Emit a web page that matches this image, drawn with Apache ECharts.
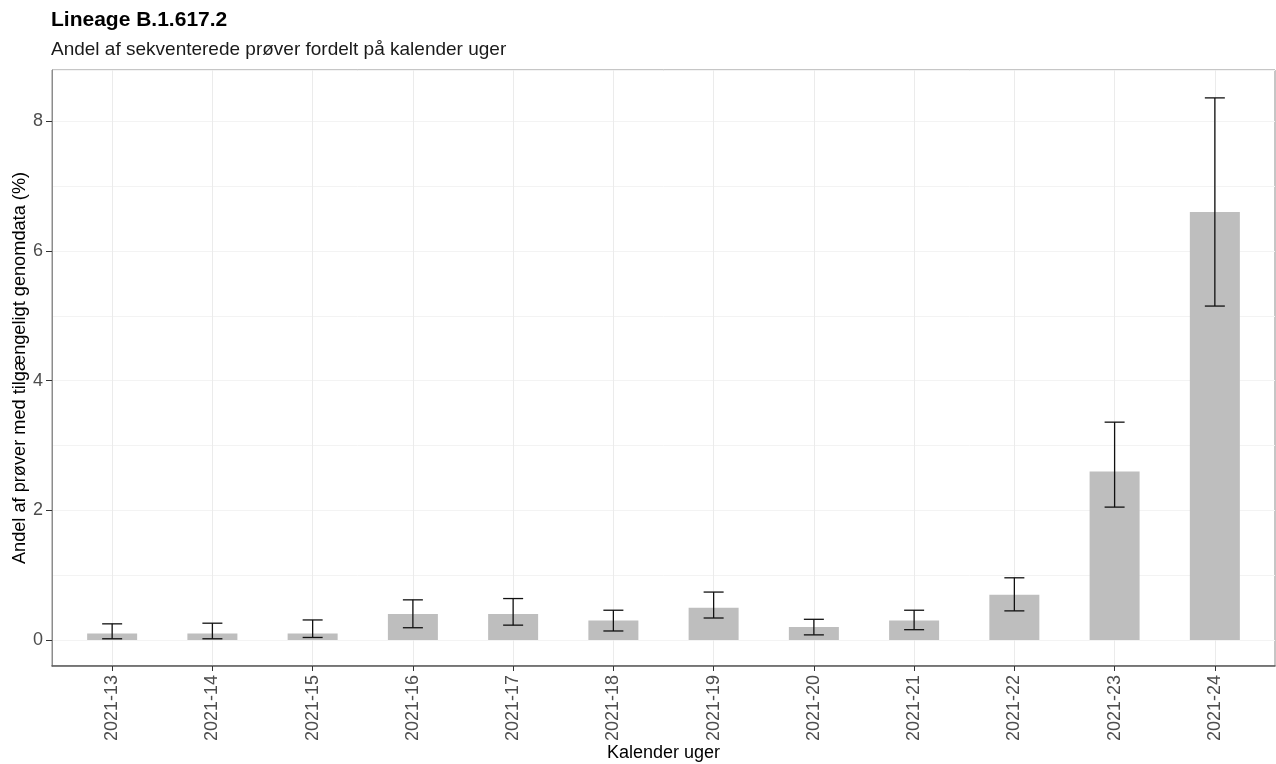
<!DOCTYPE html>
<html><head><meta charset="utf-8">
<script src="https://cdn.jsdelivr.net/npm/echarts@6/dist/echarts.min.js"></script>
<style>html,body{margin:0;padding:0;background:#fff}#c{width:1276px;height:764px}</style>
</head><body><div id="c"></div>
<script>
const weeks = ['2021-13','2021-14','2021-15','2021-16','2021-17','2021-18','2021-19','2021-20','2021-21','2021-22','2021-23','2021-24'];
const share = [0.1,0.1,0.1,0.4,0.4,0.3,0.5,0.2,0.3,0.7,2.6,6.6];
const lower = [0.02,0.02,0.04,0.19,0.23,0.14,0.34,0.08,0.16,0.45,2.05,5.15];
const upper = [0.25,0.26,0.31,0.62,0.64,0.46,0.74,0.32,0.46,0.96,3.36,8.36];
const yTicks = [0,2,4,6,8];

const pos = weeks.map((w,i)=>i+1);
const FONT = 'Liberation Sans, Arial, sans-serif';
const chart = echarts.init(document.getElementById('c'));
chart.setOption({
  animation:false,
  textStyle:{fontFamily:FONT},
  title:{
    text:'Lineage B.1.617.2',
    subtext:'Andel af sekventerede prøver fordelt på kalender uger',
    left:46, top:5, itemGap:9,
    textStyle:{fontFamily:FONT,fontSize:21,fontWeight:'bold',color:'#000'},
    subtextStyle:{fontFamily:FONT,fontSize:19,color:'#1a1a1a'}
  },
  grid:{left:52,top:70,width:1223,height:596,show:true,borderColor:'#8c8c8c',borderWidth:1,
        backgroundColor:'transparent',outerBoundsMode:'none',containLabel:false},
  xAxis:{
    type:'value',min:0.4,max:12.6,minInterval:1,maxInterval:1,splitNumber:12,
    axisLine:{show:true,onZero:false,lineStyle:{color:'#5a5a5a',width:1.5}},
    axisTick:{show:true,length:5,customValues:pos,lineStyle:{color:'#333'}},
    axisLabel:{customValues:pos,rotate:90,margin:9,color:'#4d4d4d',fontSize:18,fontFamily:FONT,
      formatter:v=>weeks[Math.round(v)-1]||''},
    splitLine:{show:true,lineStyle:{color:'#ebebeb',width:1}},
    name:'Kalender uger',nameLocation:'middle',nameGap:78,nameMoveOverlap:false,
    nameTextStyle:{color:'#000',fontSize:18,fontFamily:FONT}
  },
  yAxis:[{
    type:'value',min:-0.4,max:8.79,minInterval:2,maxInterval:2,
    axisLine:{show:true,onZero:false,lineStyle:{color:'#8c8c8c'}},
    axisTick:{show:true,length:6,customValues:yTicks,lineStyle:{color:'#333'}},
    axisLabel:{customValues:yTicks,color:'#4d4d4d',fontSize:18,margin:9,fontFamily:FONT},
    splitLine:{show:true,lineStyle:{color:'#ebebeb',width:1}},
    name:'Andel af prøver med tilgængeligt genomdata (%)',nameLocation:'middle',nameGap:23,nameMoveOverlap:false,
    nameTextStyle:{color:'#000',fontSize:18.2,fontFamily:FONT}
  },{
    type:'value',min:-0.4,max:8.79,minInterval:1,maxInterval:1,position:'left',
    axisLine:{show:false},axisTick:{show:false},axisLabel:{show:false},
    splitLine:{show:true,lineStyle:{color:'#f3f3f3',width:1}}
  }],
  series:[{
    type:'bar',yAxisIndex:0,barWidth:50,
    data:share.map((v,i)=>[pos[i],v]),
    itemStyle:{color:'#bebebe'}
  },{
    type:'custom',yAxisIndex:0,
    data:lower.map((v,i)=>[pos[i],v,upper[i]]),
    encode:{x:0,y:[1,2]},
    z:5,
    renderItem:(params,api)=>{
      const x=api.value(0);
      const lo=api.coord([x,api.value(1)]);
      const hi=api.coord([x,api.value(2)]);
      const hw=10;
      const style={stroke:'#111',lineWidth:1.3};
      return {type:'group',children:[
        {type:'line',shape:{x1:hi[0],y1:hi[1],x2:lo[0],y2:lo[1]},style:style},
        {type:'line',shape:{x1:hi[0]-hw,y1:hi[1],x2:hi[0]+hw,y2:hi[1]},style:style},
        {type:'line',shape:{x1:lo[0]-hw,y1:lo[1],x2:lo[0]+hw,y2:lo[1]},style:style}
      ]};
    }
  }]
});
</script></body></html>
